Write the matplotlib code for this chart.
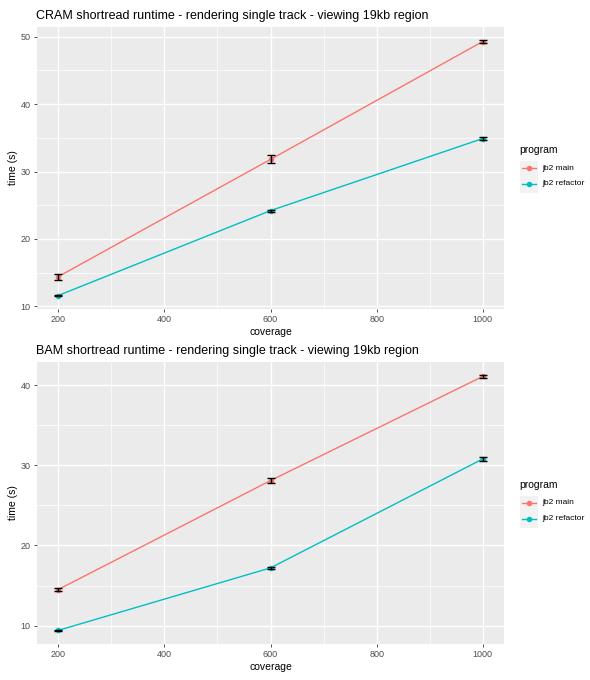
import numpy as np
import matplotlib.pyplot as plt
from matplotlib.lines import Line2D
from matplotlib.patches import Rectangle

plt.rcParams['font.family'] = ['Liberation Sans', 'DejaVu Sans']

coverage = [200, 600, 1000]
programs = ['jb2 main', 'jb2 refactor']
colors = ['#F8766D', '#00BFC4']

# CRAM panel
cram_main = [14.4, 31.8, 49.3]
cram_main_err = [0.45, 0.6, 0.25]
cram_refactor = [11.6, 24.2, 34.9]
cram_refactor_err = [0.1, 0.15, 0.25]

# BAM panel
bam_main = [14.5, 28.1, 41.1]
bam_main_err = [0.2, 0.3, 0.2]
bam_refactor = [9.4, 17.2, 30.8]
bam_refactor_err = [0.1, 0.15, 0.2]

xticks = [200, 400, 600, 800, 1000]
cram_yticks = [10, 20, 30, 40, 50]
bam_yticks = [10, 20, 30, 40]

titles = ['CRAM shortread runtime - rendering single track - viewing 19kb region',
          'BAM shortread runtime - rendering single track - viewing 19kb region']

W, H = 590, 680
fig = plt.figure(figsize=(W / 100, H / 100), dpi=100)

panels = [
    (37, 27, 504, 309, cram_main, cram_main_err, cram_refactor, cram_refactor_err, cram_yticks),
    (37, 362, 504, 644, bam_main, bam_main_err, bam_refactor, bam_refactor_err, bam_yticks),
]

for i, (l, t, r, b, m, me, rf, rfe, yt) in enumerate(panels):
    ax = fig.add_axes([l / W, 1 - b / H, (r - l) / W, (b - t) / H])
    ax.set_facecolor('#EBEBEB')
    for s in ax.spines.values():
        s.set_visible(False)

    series = [(m, me), (rf, rfe)]
    lo = min(min(np.array(v) - np.array(e)) for v, e in series)
    hi = max(max(np.array(v) + np.array(e)) for v, e in series)
    pad = (hi - lo) * 0.05
    ax.set_ylim(lo - pad, hi + pad)
    ax.set_xlim(200 - 40, 1000 + 40)

    # minor grid at midpoints, ggplot style
    for x in [300, 500, 700, 900]:
        ax.axvline(x, color='white', lw=0.5, zorder=0)
    for y in [v + 5 for v in yt[:-1]] + [yt[0] - 5, yt[-1] + 5]:
        ax.axhline(y, color='white', lw=0.5, zorder=0)
    for x in xticks:
        ax.axvline(x, color='white', lw=1.0, zorder=0)
    for y in yt:
        ax.axhline(y, color='white', lw=1.0, zorder=0)

    for (vals, errs), c in zip(series, colors):
        ax.plot(coverage, vals, color=c, lw=1.0, zorder=2)
        ax.plot(coverage, vals, 'o', color=c, ms=3, zorder=3)
        ax.errorbar(coverage, vals, yerr=errs, fmt='none', ecolor='black',
                    elinewidth=1.0, capsize=2.6, capthick=1.0, zorder=4)

    ax.set_xticks(xticks)
    ax.set_yticks(yt)
    ax.tick_params(axis='both', colors='#333333', labelcolor='#4D4D4D',
                   labelsize=6.5, length=2.5, width=0.6, pad=2)
    ax.set_xlabel('coverage', fontsize=7.5, labelpad=2)
    ax.set_ylabel('time (s)', fontsize=7.5, labelpad=2)
    ax.set_title(titles[i], fontsize=9, loc='left', x=-0.003, pad=6)

    # legend
    off = 0 if i == 0 else 335
    fig.add_artist(Rectangle((520 / W, 1 - (193 + off) / H), 18 / W, 32 / H,
                             transform=fig.transFigure, facecolor='#F2F2F2',
                             edgecolor='none'))
    fig.text(519 / W, 1 - (150 + off) / H, 'program', fontsize=7.5,
             va='center', ha='left')
    for k, (p, c) in enumerate(zip(programs, colors)):
        yk = 1 - (168 + 16 * k + off) / H
        fig.add_artist(Line2D([522 / W, 536 / W], [yk, yk], color=c, lw=1.0,
                              transform=fig.transFigure))
        fig.add_artist(Line2D([529 / W], [yk], marker='o', ms=3, color=c,
                              transform=fig.transFigure))
        fig.text(542 / W, yk, p, fontsize=6, va='center', ha='left')

fig.savefig('out.png', dpi=100)
